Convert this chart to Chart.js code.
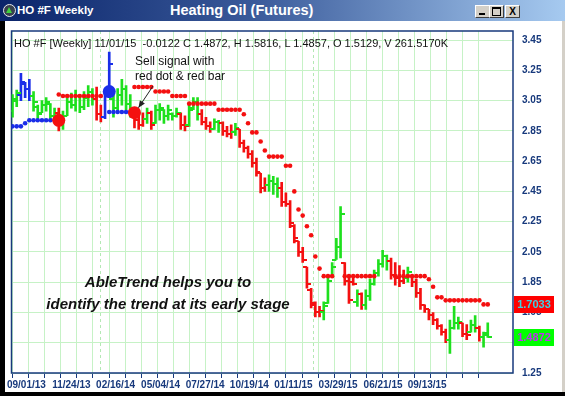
<!DOCTYPE html>
<html>
<head>
<meta charset="utf-8">
<script src="https://cdn.jsdelivr.net/npm/chart.js"></script>
<style>
  body { margin: 0; width: 565px; height: 396px; overflow: hidden; position: relative; background: #000;
         font-family: "Liberation Sans", Arial, sans-serif; }
  #titlebar { position: absolute; left: 0; top: 0; width: 565px; height: 21px;
              background: linear-gradient(to right, #0a246a 0%, #3a5a9a 45%, #a6caf0 100%); }
  #icon { position: absolute; left: 3px; top: 4px; width: 11px; height: 11px; border-radius: 50%;
          background: #39414f; border: 1px solid #e6e9ee; }
  #tri { position: absolute; left: 2px; top: 2px; width: 0; height: 0;
         border-left: 3.5px solid transparent; border-right: 3.5px solid transparent; border-bottom: 6px solid #3fd23f; }
  #wintitle { position: absolute; left: 17px; top: 0; line-height: 21px; color: #fff; font-weight: bold; font-size: 11.5px; }
  #charttitle { position: absolute; left: 170px; top: 0; line-height: 21px; color: #fff; font-weight: bold; font-size: 14.5px; }
  .btn { position: absolute; top: 5px; width: 13px; height: 11px; background: #d4d0c8;
         border-top: 1px solid #fff; border-left: 1px solid #fff; border-right: 1px solid #404040; border-bottom: 1px solid #404040; }
  .btn .g { position: absolute; }
  #rightstrip { position: absolute; left: 562px; top: 21px; width: 3px; height: 371px; background: #d4d0c8; }
  #wrap { position: absolute; left: 5px; top: 21px; width: 557px; height: 371px; background: #fff; }
  .txt { position: absolute; white-space: pre; color: #111; }
  #info { left: 14px; top: 37px; font-size: 11px; line-height: 13px; }
  #note { left: 135px; top: 54px; font-size: 12px; line-height: 15px; }
  #slogan { left: 18px; top: 271px; width: 300px; text-align: center; font-size: 15px; line-height: 22px;
            font-weight: bold; font-style: italic; }
  .vbox { position: absolute; left: 514px; width: 40px; height: 17px; line-height: 17px; text-align: center;
          font-size: 11px; font-weight: bold; }
</style>
</head>
<body>
<div id="titlebar">
  <div id="icon"><div id="tri"></div></div>
  <div id="wintitle">HO #F Weekly</div>
  <div id="charttitle">Heating Oil (Futures)</div>
  <div class="btn" style="left:475px"><div class="g" style="left:3px;top:7px;width:6px;height:2px;background:#000"></div></div>
  <div class="btn" style="left:489px"><div class="g" style="left:2px;top:1px;width:7px;height:6px;border:1px solid #000;border-top-width:2px"></div></div>
  <div class="btn" style="left:505px;font-size:10px;font-weight:bold;line-height:11px;text-align:center">X</div>
</div>
<div id="rightstrip"></div>
<div id="wrap"><canvas id="chart"></canvas></div>
<div class="txt" id="info">HO #F [Weekly] 11/01/15  -0.0122 C 1.4872, H 1.5816, L 1.4857, O 1.5129, V 261.5170K</div>
<div class="txt" id="note">Sell signal with
red dot &amp; red bar</div>
<div class="txt" id="slogan">AbleTrend helps you to
identify the trend at its early stage</div>
<div class="vbox" id="stopBox" style="background:#ff0000;color:#3fd0e0">1.7033</div>
<div class="vbox" id="closeBox" style="background:#00ff00;color:#c030f0">1.4872</div>

<script>
// weekly bars 09/01/13 .. 11/01/15
const highs = [
  3.09, 3.12, 3.23, 3.17, 3.19, 3.11, 3.02, 3.05, 3.07, 3.03,
  3.00, 3.00, 2.98, 3.07, 3.10, 3.12, 3.09, 3.11, 3.15, 3.13,
  3.14, 3.02, 3.12, 3.37, 3.09, 3.13, 3.19, 3.15, 3.09, 2.99,
  2.98, 2.97, 3.00, 2.98, 3.02, 3.03, 2.99, 3.02, 2.97, 3.00,
  2.97, 2.95, 3.02, 3.07, 3.07, 2.99, 2.94, 2.91, 2.93, 2.92,
  2.91, 2.88, 2.89, 2.90, 2.86, 2.79, 2.75, 2.72, 2.67, 2.57,
  2.54, 2.56, 2.55, 2.54, 2.51, 2.44, 2.39, 2.23, 2.12, 2.08,
  1.95, 1.81, 1.72, 1.69, 1.72, 1.89, 1.98, 2.14, 2.35, 1.98,
  1.89, 1.88, 1.80, 1.78, 1.80, 1.87, 1.93, 2.00, 2.06, 2.03,
  2.01, 1.98, 1.96, 1.93, 1.95, 1.89, 1.87, 1.81, 1.70, 1.67,
  1.65, 1.61, 1.57, 1.54, 1.60, 1.69, 1.62, 1.58, 1.57, 1.60,
  1.63, 1.56, 1.52, 1.5816
];
const lows = [
  2.94, 3.01, 3.05, 3.07, 3.05, 2.98, 2.92, 2.97, 2.98, 2.92,
  2.91, 2.85, 2.86, 2.95, 3.00, 2.98, 2.97, 2.99, 3.01, 3.02,
  2.92, 2.91, 2.93, 3.07, 2.94, 2.98, 3.02, 2.99, 2.94, 2.87,
  2.86, 2.88, 2.90, 2.86, 2.90, 2.92, 2.90, 2.92, 2.92, 2.94,
  2.86, 2.85, 2.88, 2.99, 2.92, 2.89, 2.86, 2.84, 2.86, 2.84,
  2.82, 2.81, 2.80, 2.82, 2.74, 2.71, 2.67, 2.61, 2.55, 2.44,
  2.45, 2.45, 2.43, 2.41, 2.35, 2.35, 2.21, 2.11, 2.02, 1.98,
  1.81, 1.68, 1.62, 1.62, 1.60, 1.71, 1.89, 2.00, 2.01, 1.83,
  1.71, 1.83, 1.69, 1.67, 1.67, 1.73, 1.83, 1.89, 1.95, 1.93,
  1.87, 1.83, 1.82, 1.84, 1.85, 1.82, 1.75, 1.67, 1.65, 1.60,
  1.57, 1.54, 1.50, 1.45, 1.38, 1.54, 1.54, 1.49, 1.47, 1.52,
  1.52, 1.46, 1.42, 1.4857
];
const opens = [
  2.98, 3.05, 3.09, 3.16, 3.13, 3.08, 3.01, 2.97, 3.02, 3.03,
  2.95, 2.97, 2.89, 2.95, 3.04, 3.02, 3.08, 3.01, 3.07, 3.11,
  3.06, 2.96, 2.94, 3.09, 3.06, 3.00, 3.09, 3.13, 3.03, 2.97,
  2.92, 2.89, 2.93, 2.97, 2.90, 2.99, 2.99, 2.95, 2.96, 2.95,
  2.96, 2.89, 2.89, 3.00, 3.04, 2.96, 2.91, 2.88, 2.86, 2.91,
  2.90, 2.85, 2.83, 2.84, 2.86, 2.77, 2.74, 2.70, 2.64, 2.57,
  2.47, 2.49, 2.52, 2.50, 2.47, 2.38, 2.37, 2.22, 2.12, 2.05,
  1.95, 1.80, 1.70, 1.65, 1.65, 1.71, 1.89, 2.00, 2.08, 1.98,
  1.86, 1.85, 1.72, 1.77, 1.70, 1.76, 1.84, 1.91, 1.97, 2.02,
  1.99, 1.90, 1.88, 1.86, 1.88, 1.89, 1.85, 1.78, 1.70, 1.67,
  1.63, 1.60, 1.56, 1.52, 1.47, 1.55, 1.58, 1.58, 1.51, 1.52,
  1.57, 1.55, 1.49, 1.5129
];
const closes = [
  3.06, 3.10, 3.17, 3.13, 3.08, 3.04, 2.96, 3.02, 3.04, 2.95,
  2.97, 2.89, 2.95, 3.04, 3.02, 3.08, 3.01, 3.07, 3.11, 3.06,
  2.96, 2.94, 3.09, 3.29, 3.00, 3.09, 3.13, 3.03, 2.97, 2.92,
  2.89, 2.93, 2.97, 2.89, 2.99, 3.00, 2.95, 2.99, 2.95, 2.97,
  2.89, 2.88, 2.99, 3.04, 2.96, 2.91, 2.88, 2.86, 2.91, 2.90,
  2.85, 2.83, 2.84, 2.87, 2.77, 2.74, 2.70, 2.64, 2.58, 2.47,
  2.49, 2.52, 2.50, 2.47, 2.38, 2.37, 2.24, 2.14, 2.05, 2.00,
  1.84, 1.71, 1.65, 1.66, 1.69, 1.86, 1.95, 2.08, 2.30, 1.86,
  1.73, 1.84, 1.77, 1.70, 1.76, 1.84, 1.91, 1.97, 2.02, 1.99,
  1.90, 1.88, 1.86, 1.88, 1.92, 1.85, 1.78, 1.70, 1.67, 1.63,
  1.60, 1.56, 1.52, 1.47, 1.55, 1.58, 1.59, 1.51, 1.50, 1.57,
  1.55, 1.49, 1.4994, 1.4872
];
// G = up trend, R = down trend, B = neutral
const trend = ('GG BBB GGGGGG R GGGGGGGG RR BB GGGGG RRR G R GGGGGG RR GGG RRR GG RRR G RRRRRRR GGG ' +
               'RRRRRRRRRR GGGGG RRR G R GGGGGG RRRR G RRRRRRRRR GGG RR GG R GG').replace(/ /g, '').split('');

// red stop dots (above price) and blue stop dots (below price)
const stopDn = [
  null, null, null, null, null, null, null, null, null, null,
  null, 3.09, 3.08, 3.08, 3.08, 3.08, 3.08, 3.08, 3.08, 3.08,
  3.08, 3.08, null, null, null, null, null, null, null, 3.14,
  3.14, 3.14, 3.14, 3.14, 3.11, 3.11, 3.11, 3.11, 3.08, 3.08,
  3.08, 3.08, 3.03, 3.03, 3.03, 3.03, 3.03, 3.03, 3.03, 2.99,
  2.99, 2.99, 2.99, 2.99, 2.99, 2.96, 2.90, 2.84, 2.84, 2.78,
  2.72, 2.68, 2.68, 2.68, 2.68, 2.62, 2.62, 2.45, 2.33, 2.29,
  2.22, 2.16, 2.02, 1.94, 1.89, 1.89, 1.89, null, null, 1.89,
  1.89, 1.89, 1.89, 1.89, 1.89, 1.89, 1.89, null, null, null,
  null, 1.89, 1.89, 1.89, 1.89, 1.89, 1.89, 1.89, 1.89, 1.87,
  1.82, 1.75, 1.75, 1.73, 1.73, 1.73, 1.73, 1.73, 1.73, 1.73,
  1.73, 1.73, 1.7033, 1.7033
];
const stopUp = [
  2.88, 2.88, 2.88, 2.90, 2.92, 2.92, 2.92, 2.92, 2.92, 2.92,
  2.92, null, null, null, null, null, null, null, null, null,
  null, null, null, 2.975, 2.975, 2.975, 2.975, 2.975, 2.975
];

// big signal dots
const signalBar = [11, 23, 29];
const signalPrice = [2.92, 3.11, 2.97];
const signalType = ['R', 'B', 'R'];

// axis labels
const priceTicks = [1.25, 1.45, 1.65, 1.85, 2.05, 2.25, 2.45, 2.65, 2.85, 3.05, 3.25, 3.45];
const dateLabels = ['09/01/13', '11/24/13', '02/16/14', '05/04/14', '07/27/14',
                    '10/19/14', '01/11/15', '03/29/15', '06/21/15', '09/13/15'];
const dateLabelAt = [3.3, 14.0, 24.5, 35.2, 45.8, 56.3, 66.8, 77.4, 88.1, 98.6];
const yearBreakAt = [20.7, 71.5];

const trendColors = { G: '#1ee01e', R: '#f41010', B: '#1a2ee8' };
const navy = '#17397c';
const gridGreen = '#c6f2c6';
const xMin = -0.24, xMax = 119;
const gridStep = 3.824, gridCount = 30;

function makeTick(color, side) {
  const c = document.createElement('canvas');
  c.width = 8; c.height = 2;
  const g = c.getContext('2d');
  g.fillStyle = color;
  g.fillRect(side === 'open' ? 0 : 4, 0, 4, 2);
  return c;
}
const tickImg = {};
Object.keys(trendColors).forEach(k => {
  tickImg[k] = { open: makeTick(trendColors[k], 'open'), close: makeTick(trendColors[k], 'close') };
});

function pts(values) {
  const out = [];
  values.forEach((v, i) => { if (v != null) out.push({ x: i, y: v }); });
  return out;
}

const labelMap = new Map();
dateLabelAt.forEach((p, i) => labelMap.set(p, dateLabels[i]));
const gridAt = [];
for (let k = 0; k < gridCount; k++) gridAt.push(k * gridStep);
const xTickValues = gridAt.concat(dateLabelAt).sort((a, b) => a - b);
const hidden = 'rgba(0,0,0,0)';

const framePlugin = {
  id: 'frame',
  beforeDatasetsDraw(chart) {
    const { ctx, chartArea: a, scales } = chart;
    ctx.save();
    ctx.setLineDash([3, 3]);
    ctx.strokeStyle = '#b4e8b4';
    ctx.lineWidth = 1;
    yearBreakAt.forEach(v => {
      const x = Math.round(scales.x.getPixelForValue(v)) + 0.5;
      ctx.beginPath(); ctx.moveTo(x, a.top); ctx.lineTo(x, a.bottom); ctx.stroke();
    });
    ctx.setLineDash([]);
    ctx.strokeStyle = navy;
    ctx.lineWidth = 1.5;
    ctx.strokeRect(a.left, a.top, a.right - a.left, a.bottom - a.top);
    ctx.restore();
  },
  afterDraw(chart) {
    const { ctx, scales } = chart;
    // arrow from the note to the sell signal dot
    const tx = scales.x.getPixelForValue(signalBar[2]) + 4;
    const ty = scales.y.getPixelForValue(signalPrice[2]) - 5;
    const sx = 148, sy = 65;
    const ang = Math.atan2(ty - sy, tx - sx);
    ctx.save();
    ctx.strokeStyle = '#222';
    ctx.fillStyle = '#222';
    ctx.lineWidth = 1;
    ctx.beginPath(); ctx.moveTo(sx, sy); ctx.lineTo(tx, ty); ctx.stroke();
    ctx.beginPath();
    ctx.moveTo(tx, ty);
    ctx.lineTo(tx - 7 * Math.cos(ang) + 3 * Math.sin(ang), ty - 7 * Math.sin(ang) - 3 * Math.cos(ang));
    ctx.lineTo(tx - 7 * Math.cos(ang) - 3 * Math.sin(ang), ty - 7 * Math.sin(ang) + 3 * Math.cos(ang));
    ctx.closePath(); ctx.fill();
    ctx.restore();
    // last value boxes on the price axis
    const top0 = chart.canvas.parentNode.offsetTop;
    const lastStop = stopDn[stopDn.length - 1];
    const lastClose = closes[closes.length - 1];
    document.getElementById('stopBox').style.top = (top0 + scales.y.getPixelForValue(lastStop) - 8.5) + 'px';
    document.getElementById('closeBox').style.top = (top0 + scales.y.getPixelForValue(lastClose) - 8.5) + 'px';
  }
};

Chart.defaults.font.family = '"Liberation Sans", Arial, sans-serif';

new Chart(document.getElementById('chart'), {
  type: 'bar',
  data: {
    datasets: [
      {
        type: 'scatter', order: 0,
        data: signalBar.map((b, i) => ({ x: b, y: signalPrice[i] })),
        backgroundColor: signalType.map(t => trendColors[t]),
        pointRadius: 6.5, pointBorderWidth: 0
      },
      {
        type: 'scatter', order: 1, data: pts(stopDn),
        backgroundColor: trendColors.R, pointRadius: 2.3, pointBorderWidth: 0
      },
      {
        type: 'scatter', order: 1, data: pts(stopUp),
        backgroundColor: trendColors.B, pointRadius: 2.3, pointBorderWidth: 0
      },
      {
        type: 'scatter', order: 2, data: opens.map((o, i) => ({ x: i, y: o })),
        pointStyle: c => tickImg[trend[c.dataIndex]].open, pointRadius: 3
      },
      {
        type: 'scatter', order: 2, data: closes.map((o, i) => ({ x: i, y: o })),
        pointStyle: c => tickImg[trend[c.dataIndex]].close, pointRadius: 3
      },
      {
        type: 'bar', order: 3,
        data: highs.map((h, i) => ({ x: i, y: [lows[i], h] })),
        backgroundColor: trend.map(t => trendColors[t]),
        barThickness: 2, grouped: false, borderWidth: 0
      }
    ]
  },
  options: {
    responsive: true,
    maintainAspectRatio: false,
    animation: false,
    events: [],
    layout: { padding: { left: 6, top: 10, right: 0, bottom: 0 } },
    plugins: { legend: { display: false }, tooltip: { enabled: false } },
    scales: {
      x: {
        type: 'linear', position: 'bottom', min: xMin, max: xMax, offset: false,
        border: { display: false },
        grid: {
          offset: false, lineWidth: 1, tickLength: 5,
          color: c => (c.tick && labelMap.has(c.tick.value)) ? hidden : gridGreen,
          tickColor: c => (c.tick && labelMap.has(c.tick.value)) ? hidden : navy
        },
        ticks: {
          autoSkip: false, maxRotation: 0, minRotation: 0, padding: 1,
          color: navy, font: { size: 10, weight: 'bold' },
          callback: v => labelMap.get(v) || ''
        },
        afterBuildTicks: axis => { axis.ticks = xTickValues.map(v => ({ value: v })); },
        afterFit: axis => { axis.height = 19; axis.paddingLeft = 0; axis.paddingRight = 0; }
      },
      y: {
        type: 'linear', position: 'right', min: 1.25, max: 3.51,
        border: { display: false },
        grid: { color: gridGreen, lineWidth: 1, drawTicks: false },
        ticks: {
          padding: 9, color: navy, font: { size: 10, weight: 'bold' },
          callback: v => v.toFixed(2)
        },
        afterBuildTicks: axis => { axis.ticks = priceTicks.map(v => ({ value: v })); },
        afterFit: axis => { axis.width = 49; axis.paddingTop = 0; axis.paddingBottom = 0; }
      }
    }
  },
  plugins: [framePlugin]
});
</script>
</body>
</html>
